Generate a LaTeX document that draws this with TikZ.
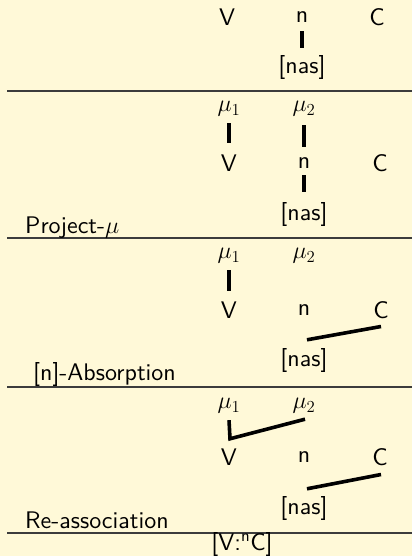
\documentclass[tikz,border=0pt]{standalone}
\usepackage{fontspec}
\usepackage{fix-cm}
\newfontfamily\lmsx{lmsans10-regular.otf}
\usetikzlibrary{calc}
\definecolor{cream}{RGB}{255,249,216}
\definecolor{rule}{RGB}{60,60,60}
\begin{document}
\begin{tikzpicture}[x=1pt,y=-1pt,
  every node/.style={font=\lmsx\fontsize{24}{28}\selectfont,inner sep=0pt,text=black},
  bar/.style={line width=3.6pt,black},
  sep/.style={line width=1.4pt,rule},
  lab/.style={anchor=base west}]
\fill[cream] (0,0) rectangle (412,556);
\useasboundingbox (0,0) rectangle (412,556);
% separators
\coordinate (s1a) at (7,91);   \coordinate (s1b) at (412,91);
\coordinate (s2a) at (7,238);  \coordinate (s2b) at (412,238);
\coordinate (s3a) at (7,387);  \coordinate (s3b) at (412,387);
\coordinate (s4a) at (7,533);  \coordinate (s4b) at (412,533);
\draw[sep] (s1a) -- (s1b);
\draw[sep] (s2a) -- (s2b);
\draw[sep] (s3a) -- (s3b);
\draw[sep] (s4a) -- (s4b);
% stage 1
\node (V1) at (227,17) {V};
\node (n1) at (302,17) {n};
\node (C1) at (377,17) {C};
\node (nas1) at (302,68) {[nas]};
\draw[bar,shorten <=8.7pt,shorten >=8pt] (n1.south) -- (nas1.north);
% stage 2
\node (m21) at (229,109) {$\mu_1$};
\node (m22) at (304,109) {$\mu_2$};
\node (V2) at (229,163) {V};
\node (n2) at (304,163) {n};
\node (C2) at (380,163) {C};
\node (nas2) at (304,214) {[nas]};
\node[lab] (L2) at (25,233) {Project-$\mu$};
\draw[bar,shorten <=6.5pt,shorten >=11.7pt] (m21.south) -- (V2.north);
\draw[bar,shorten <=8.5pt,shorten >=10.7pt] (m22.south) -- (n2.north);
\draw[bar,shorten <=6.7pt,shorten >=10pt] (n2.south) -- (nas2.north);
% stage 3
\node (m31) at (229,256) {$\mu_1$};
\node (m32) at (304,256) {$\mu_2$};
\node (V3) at (229,310) {V};
\node (n3) at (304,310) {n};
\node (C3) at (381,310) {C};
\node (nas3) at (304,360) {[nas]};
\node[lab] (L3) at (33,380) {[n]-Absorption};
\draw[bar,shorten <=6.5pt,shorten >=10.7pt] (m31.south) -- (V3.north);
\draw[bar] ([xshift=3pt,yshift=8pt]nas3.north) -- ([yshift=-7.7pt]C3.south);
% stage 4
\node (m41) at (229,406) {$\mu_1$};
\node (m42) at (304,406) {$\mu_2$};
\node (V4) at (229,457) {V};
\node (n4) at (304,457) {n};
\node (C4) at (380,457) {C};
\node (nas4) at (304,508) {[nas]};
\node[lab] (L4) at (25,528) {Re-association};
\draw[bar] ([yshift=-6.5pt]m41.south) -- ([xshift=1pt,yshift=9.7pt]V4.north) -- ([xshift=1pt,yshift=-5.5pt]m42.south);
\draw[bar] ([xshift=3pt,yshift=7pt]nas4.north) -- ([xshift=1pt,yshift=-8.7pt]C4.south);
% result
\node (R) at (242,544) {[V:\textsuperscript{n}C]};
\end{tikzpicture}
\end{document}
